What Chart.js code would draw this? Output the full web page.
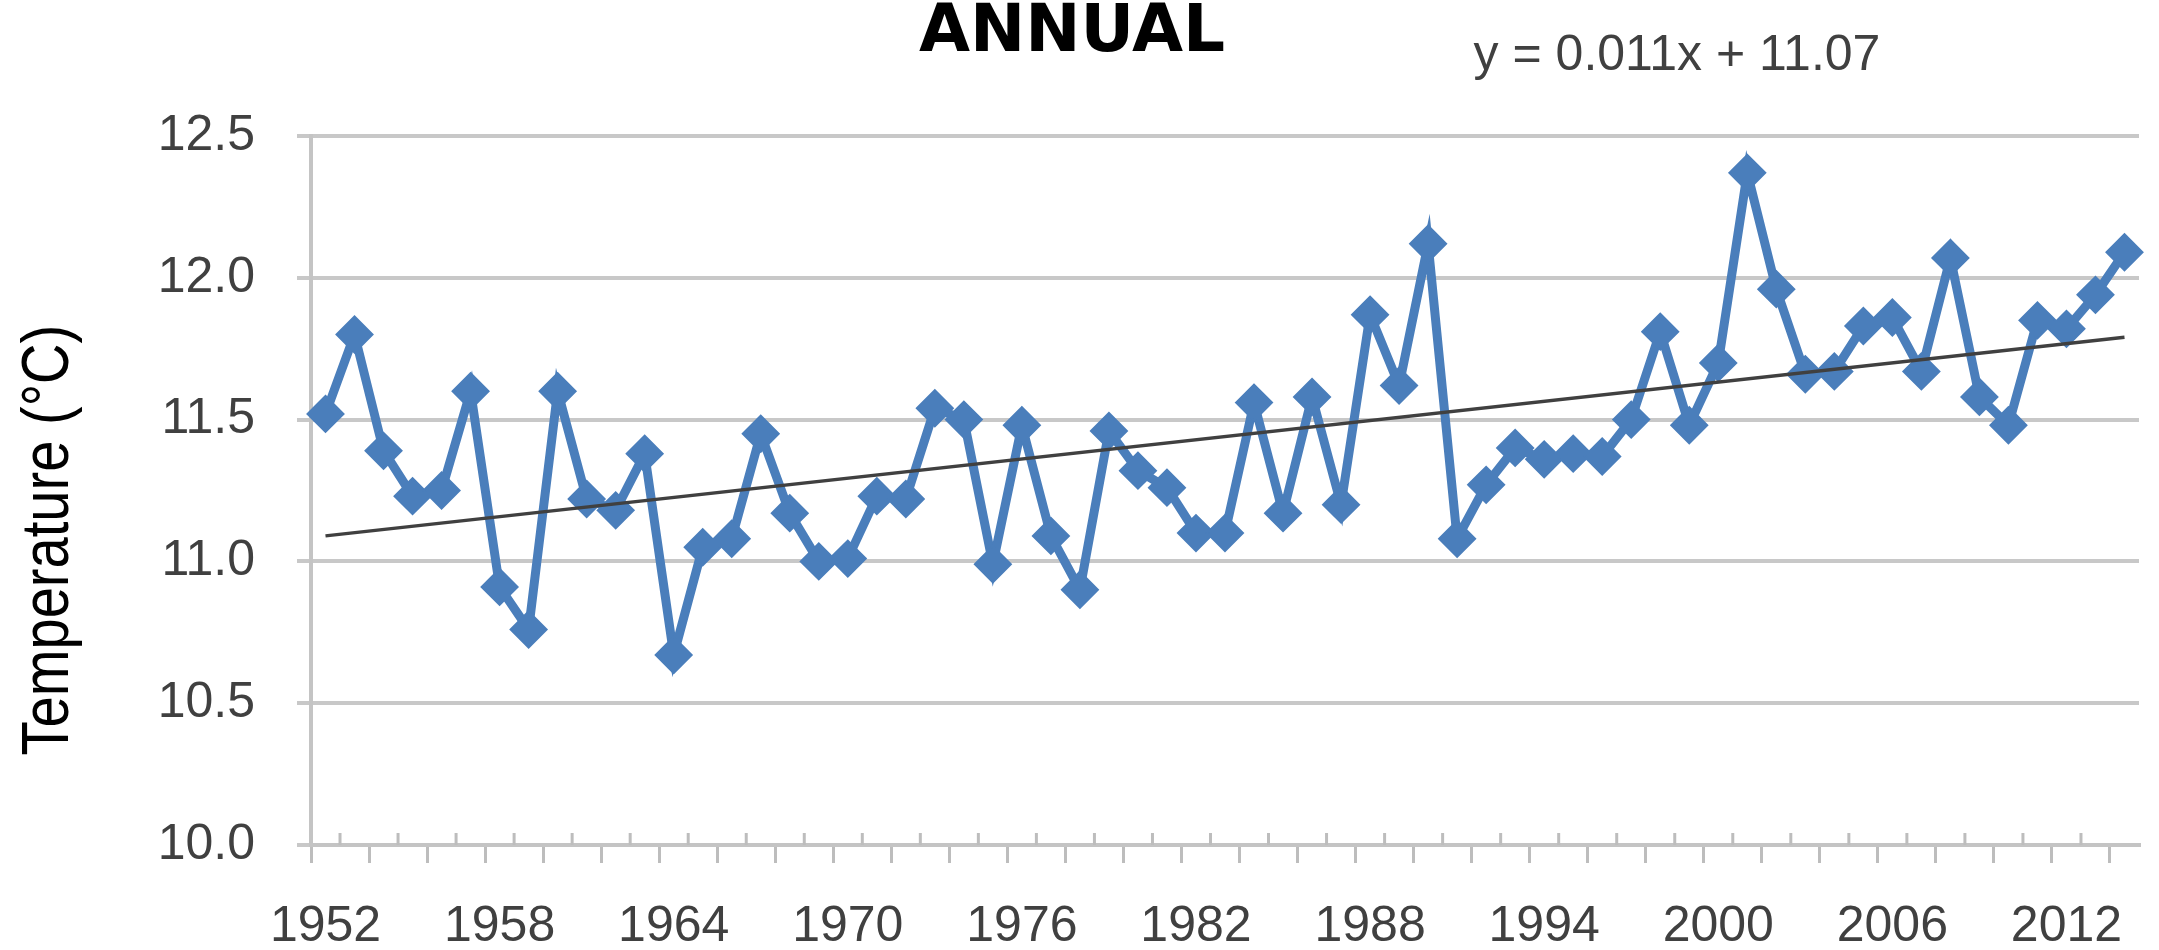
<!DOCTYPE html>
<html>
<head>
<meta charset="utf-8">
<title>ANNUAL</title>
<script src="https://cdn.jsdelivr.net/npm/chart.js@4.4.1/dist/chart.umd.min.js"></script>
<style>
  html, body { margin: 0; padding: 0; background: #fff; }
  #wrap { width: 2159px; height: 950px; }
</style>
</head>
<body>
<div id="wrap"><canvas id="annualChart" width="2159" height="950"></canvas></div>
<script>
  // annual mean temperature
  const years = [1952, 1953, 1954, 1955, 1956, 1957, 1958, 1959, 1960, 1961,
                 1962, 1963, 1964, 1965, 1966, 1967, 1968, 1969, 1970, 1971,
                 1972, 1973, 1974, 1975, 1976, 1977, 1978, 1979, 1980, 1981,
                 1982, 1983, 1984, 1985, 1986, 1987, 1988, 1989, 1990, 1991,
                 1992, 1993, 1994, 1995, 1996, 1997, 1998, 1999, 2000, 2001,
                 2002, 2003, 2004, 2005, 2006, 2007, 2008, 2009, 2010, 2011,
                 2012, 2013, 2014];
  const temps = [11.52, 11.80, 11.39, 11.23, 11.25, 11.60, 10.91, 10.76, 11.60, 11.22,
                 11.18, 11.38, 10.67, 11.05, 11.08, 11.45, 11.17, 11.00, 11.01, 11.23,
                 11.22, 11.54, 11.50, 10.99, 11.48, 11.09, 10.90, 11.46, 11.32, 11.26,
                 11.10, 11.10, 11.56, 11.17, 11.58, 11.20, 11.87, 11.62, 12.12, 11.08,
                 11.27, 11.40, 11.36, 11.38, 11.37, 11.50, 11.81, 11.48, 11.70, 12.37,
                 11.96, 11.66, 11.67, 11.83, 11.86, 11.67, 12.07, 11.58, 11.48, 11.85,
                 11.82, 11.94, 12.09];
  // linear trend, start and end values as drawn
  const trendEnds = [11.09, 11.79];
  const trendLabel = 'y = 0.011x + 11.07';
  const yTitle = 'Temperature (°C)';
  const yearTicks = ['1952', '1958', '1964', '1970', '1976', '1982', '1988', '1994', '2000', '2006', '2012'];

  const trend = years.map((y, i) => i === 0 ? trendEnds[0] : (i === years.length - 1 ? trendEnds[1] : null));

  // extra texts + the short upward ticks on the category axis
  const extrasPlugin = {
      id: 'extras',
      beforeDatasetsDraw(chart) {
          const x = chart.scales.x;
          const c = chart.ctx;
          const step = x.width / years.length;
          c.save();
          c.strokeStyle = '#bdbdbd';
          c.lineWidth = 3;
          for (let k = 1; k < years.length; k += 2) {
              const px = x.left + k * step;
              c.beginPath();
              c.moveTo(px, x.top);
              c.lineTo(px, x.top - 12);
              c.stroke();
          }
          c.restore();
      },
      afterDraw(chart) {
          const c = chart.ctx;
          const area = chart.chartArea;
          c.save();
          c.font = '50px "Liberation Sans", Arial, sans-serif';
          c.fillStyle = '#404040';
          c.textAlign = 'center';
          c.textBaseline = 'alphabetic';
          c.fillText(trendLabel, 1677, 70);
          c.restore();

          // rotated axis title, slightly condensed like the source
          c.save();
          c.translate(68, area.top + (area.bottom - area.top) * 0.57);
          c.rotate(-Math.PI / 2);
          c.scale(0.85, 1);
          c.font = '66px "Liberation Sans", Arial, sans-serif';
          c.fillStyle = '#000';
          c.textAlign = 'center';
          c.textBaseline = 'alphabetic';
          c.fillText(yTitle, 0, 0);
          c.restore();
      }
  };

  const ctx = document.getElementById('annualChart').getContext('2d');
  const annualChart = new Chart(ctx, {
      type: 'line',
      data: {
          labels: years.map(String),
          datasets: [{
              label: 'Trend',
              data: trend,
              spanGaps: true,
              borderColor: '#404040',
              borderWidth: 3.5,
              pointRadius: 0,
              fill: false
          }, {
              label: 'Annual',
              data: temps,
              borderColor: '#4a7ebb',
              backgroundColor: '#4a7ebb',
              borderWidth: 9,
              pointStyle: 'rectRot',
              pointRadius: 18,
              pointBorderWidth: 2,
              pointBorderColor: '#4a7ebb',
              pointBackgroundColor: '#4a7ebb',
              tension: 0,
              fill: false
          }]
      },
      options: {
          responsive: false,
          animation: false,
          devicePixelRatio: 1,
          layout: { padding: { left: 0, right: 15, top: 0, bottom: 0 } },
          plugins: {
              legend: { display: false },
              tooltip: { enabled: false },
              title: {
                  display: true,
                  text: 'ANNUAL',
                  color: '#000',
                  font: { family: '"DejaVu Sans", sans-serif', size: 66, weight: 'bold', lineHeight: 1.0 },
                  padding: { top: 1, bottom: 69 }
              }
          },
          scales: {
              x: {
                  offset: true,
                  grid: {
                      offset: true,
                      drawOnChartArea: false,
                      color: '#bdbdbd',
                      tickColor: (c) => c.index % 2 === 0 ? '#bdbdbd' : 'rgba(0,0,0,0)',
                      lineWidth: 3,
                      tickLength: 18
                  },
                  border: { display: true, color: '#c4c4c4', width: 4 },
                  ticks: {
                      autoSkip: false,
                      maxRotation: 0,
                      padding: 34,
                      color: '#404040',
                      font: { family: '"Liberation Sans", Arial, sans-serif', size: 50 },
                      callback: function (value) {
                          const lab = this.getLabelForValue(value);
                          return yearTicks.includes(lab) ? lab : '';
                      }
                  },
                  afterFit: (scale) => { scale.height = 105; }
              },
              y: {
                  min: 10,
                  max: 12.5,
                  grid: {
                      color: '#c8c8c8',
                      lineWidth: 4,
                      tickLength: 14
                  },
                  border: { display: true, color: '#c4c4c4', width: 4 },
                  ticks: {
                      stepSize: 0.5,
                      padding: 42,
                      color: '#404040',
                      font: { family: '"Liberation Sans", Arial, sans-serif', size: 50 },
                      callback: (v) => v.toFixed(1)
                  },
                  afterFit: (scale) => { scale.width = 311; }
              }
          }
      },
      plugins: [extrasPlugin]
  });
</script>
</body>
</html>
